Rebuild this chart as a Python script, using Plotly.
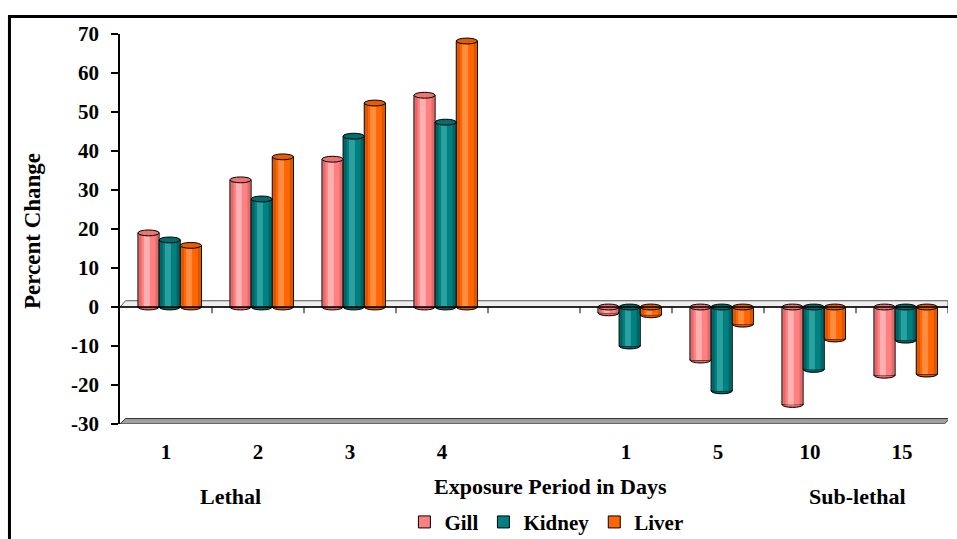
import plotly.graph_objects as go

# Exposure periods (days) for the two exposure regimes
lethal_days = ["1", "2", "3", "4"]
sublethal_days = ["1", "5", "10", "15"]

# Percent change per tissue: lethal periods, then sub-lethal periods
gill_lethal = [19.0, 32.6, 37.9, 54.3]
gill_sublethal = [-1.5, -13.6, -25.0, -17.5]
kidney_lethal = [17.2, 27.7, 43.8, 47.4]
kidney_sublethal = [-10.0, -21.5, -16.0, -8.5]
liver_lethal = [15.8, 38.5, 52.3, 68.2]
liver_sublethal = [-2.0, -4.4, -8.2, -17.2]

y_ticks = [70, 60, 50, 40, 30, 20, 10, 0, -10, -20, -30]

FONT = "Liberation Serif"

# slot positions on a numeric axis: 4 lethal slots, one empty slot, 4 sub-lethal slots
lethal_pos = [0.5 + i for i in range(len(lethal_days))]
sublethal_pos = [5.5 + i for i in range(len(sublethal_days))]
positions = lethal_pos + sublethal_pos
tick_text = lethal_days + sublethal_days

series = [
    ("Gill", gill_lethal + gill_sublethal, "#FF8080", "#E46A6A", "#FFB0B0", "#EE7474"),
    ("Kidney", kidney_lethal + kidney_sublethal, "#008080", "#006464", "#2AA0A0", "#006E6E"),
    ("Liver", liver_lethal + liver_sublethal, "#FF6600", "#DA5600", "#FF8C40", "#E85C00"),
]

BAR_W = 0.23
SHIFT = 0.04
CAP_H = 0.75  # half height of the cylinder end ellipses, in data units

fig = go.Figure()
shapes = []

# grey floor behind the zero line
shapes.append(dict(type="path", xref="x", yref="y", layer="below",
                   path="M 0.06,1.6 L 9,1.6 L 9,0 L 0,0 Z",
                   fillcolor="#EFEFEF", line=dict(color="#555555", width=1)))

for k, (name, vals, col, edge, hi, cap) in enumerate(series):
    offset = SHIFT + (k - 1) * BAR_W
    xs = [p + offset for p in positions]
    # outer body (darker edge), mid body, and a highlight strip
    fig.add_trace(go.Bar(x=xs, y=vals, width=BAR_W, name="<b>%s</b>" % name, legendgroup=name,
                         marker=dict(color=col, line=dict(color="black", width=1)),
                         showlegend=True))
    fig.add_trace(go.Bar(x=xs, y=vals, width=BAR_W * 0.9, legendgroup=name,
                         marker=dict(color=edge, line=dict(width=0)), showlegend=False))
    fig.add_trace(go.Bar(x=xs, y=vals, width=BAR_W * 0.66, legendgroup=name,
                         marker=dict(color=col, line=dict(width=0)), showlegend=False))
    fig.add_trace(go.Bar(x=[x - BAR_W * 0.08 for x in xs], y=vals, width=BAR_W * 0.28,
                         legendgroup=name,
                         marker=dict(color=hi, line=dict(width=0)), showlegend=False))
    for x, v in zip(xs, vals):
        top = max(v, 0)
        bot = min(v, 0)
        # rounded lower end of the cylinder
        shapes.append(dict(type="circle", xref="x", yref="y", layer="below",
                           x0=x - BAR_W / 2, x1=x + BAR_W / 2,
                           y0=bot - CAP_H, y1=bot + CAP_H,
                           fillcolor=edge, line=dict(color="black", width=1)))
        # upper cap of the cylinder
        shapes.append(dict(type="circle", xref="x", yref="y", layer="above",
                           x0=x - BAR_W / 2, x1=x + BAR_W / 2,
                           y0=top - CAP_H, y1=top + CAP_H,
                           fillcolor=cap, line=dict(color="black", width=1)))

# small category-boundary ticks on the zero line
for b in range(1, 10):
    shapes.append(dict(type="line", xref="x", yref="y", layer="above",
                       x0=b, x1=b, y0=0, y1=-1.6, line=dict(color="black", width=1)))

# zero line
shapes.append(dict(type="line", xref="x", yref="y", layer="above",
                   x0=0, x1=9, y0=0, y1=0, line=dict(color="black", width=1.5)))

# grey floor slab at the bottom of the value range
shapes.append(dict(type="path", xref="x", yref="y", layer="above",
                   path="M 0,-30 L 0.06,-28.6 L 9.02,-28.6 L 8.96,-30 Z",
                   fillcolor="#A0A0A0", line=dict(color="#333333", width=1)))

# outer frame
shapes.append(dict(type="rect", xref="paper", yref="paper",
                   x0=-0.1335, x1=1.06, y0=-0.45, y1=1.045,
                   line=dict(color="black", width=3), fillcolor="rgba(0,0,0,0)"))

def label(text, x, y, size=22, angle=0):
    return dict(text="<b>%s</b>" % text, xref="paper", yref="paper", x=x, y=y,
                xanchor="center", yanchor="middle", textangle=angle, showarrow=False,
                font=dict(size=size, family=FONT, color="black"))

annotations = [
    label("Percent Change", -0.105, 0.495, size=23, angle=-90),
    label("Lethal", 0.133, -0.187),
    label("Exposure Period in Days", 0.5205, -0.159),
    label("Sub-lethal", 0.891, -0.187),
]

fig.update_layout(
    width=957, height=539,
    margin=dict(l=120, r=9, t=34, b=115, autoexpand=False),
    paper_bgcolor="white", plot_bgcolor="white",
    barmode="overlay",
    font=dict(family=FONT, color="black"),
    xaxis=dict(range=[0, 9], tickvals=positions,
               ticktext=["<b>%s</b>" % t for t in tick_text],
               tickfont=dict(size=21, family=FONT, color="black"),
               ticks="", showline=False, showgrid=False, zeroline=False,
               ticklabelstandoff=13, fixedrange=True, automargin=False),
    yaxis=dict(range=[-30, 70], tickvals=y_ticks,
               ticktext=["<b>%d</b>" % t for t in y_ticks],
               tickfont=dict(size=21, family=FONT, color="black"),
               ticks="outside", ticklen=7, tickwidth=1.5, tickcolor="black",
               showline=True, linecolor="black", linewidth=1.5,
               showgrid=False, zeroline=False, ticklabelstandoff=8, fixedrange=True,
               automargin=False),
    legend=dict(orientation="h", x=0.515, xanchor="center", y=-0.252, yanchor="middle",
                font=dict(size=21, family=FONT, color="black"),
                bgcolor="rgba(0,0,0,0)", itemclick=False, itemdoubleclick=False,
                itemwidth=30, tracegroupgap=0),
    shapes=shapes,
    annotations=annotations,
    showlegend=True,
)

fig.write_html("out.html")
